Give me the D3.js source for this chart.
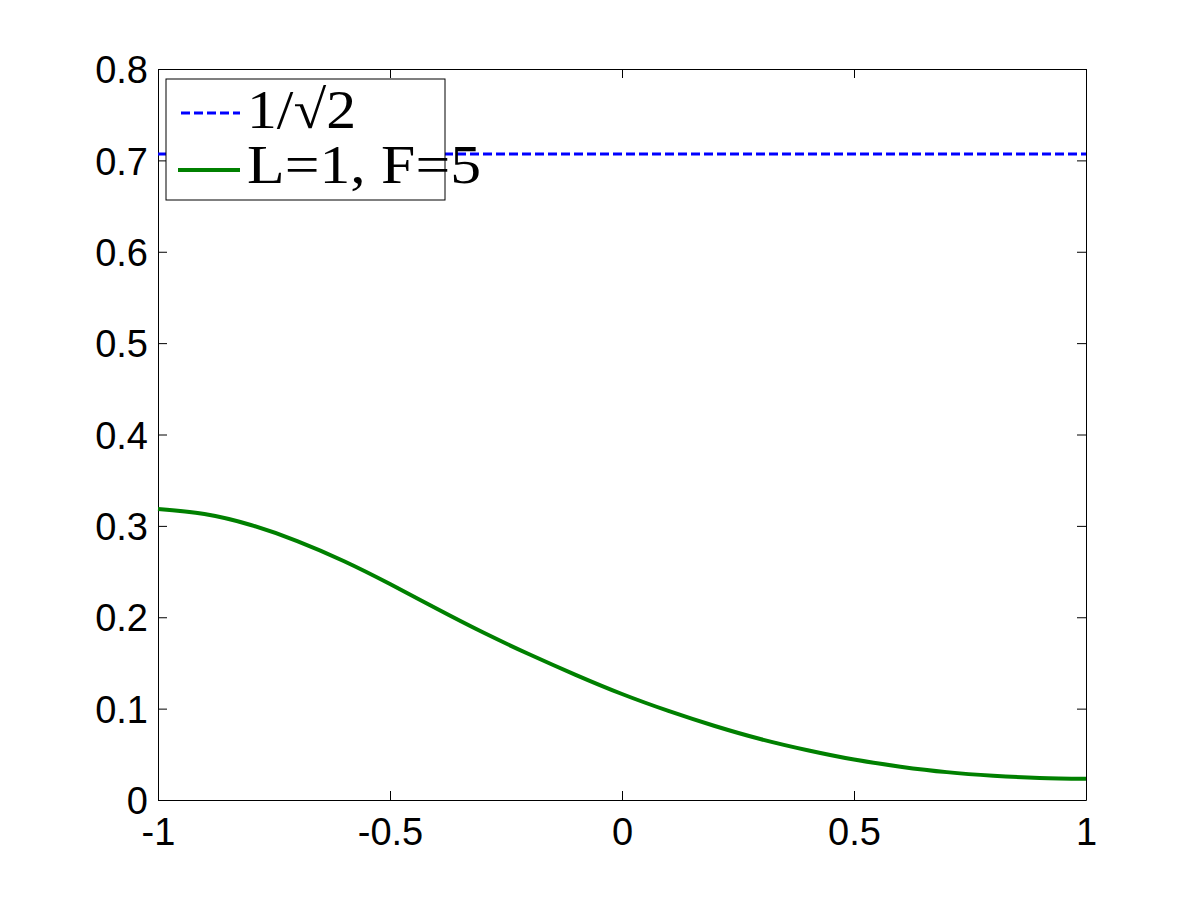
<!DOCTYPE html>
<html>
<head>
<meta charset="utf-8">
<script src="https://cdn.jsdelivr.net/npm/d3@7"></script>
<style>
  body { margin: 0; background: #fff; }
  svg { display: block; }
</style>
</head>
<body>
<svg id="chart"></svg>
<script>
// values
let xValues = [-1.0, -0.9, -0.8, -0.7, -0.6, -0.5, -0.4, -0.3, -0.2, -0.1, 0.0,
               0.1, 0.2, 0.3, 0.4, 0.5, 0.6, 0.7, 0.8, 0.9, 1.0];
let yValues = [0.3185, 0.3130, 0.3010, 0.2834, 0.2616, 0.2364, 0.2095, 0.1835, 0.1595, 0.1370, 0.1160,
               0.0975, 0.0810, 0.0665, 0.0545, 0.0443, 0.0365, 0.0305, 0.0266, 0.0242, 0.0232];
let refValue = 0.7071;

let xTicks = [-1, -0.5, 0, 0.5, 1];
let yTicks = [0, 0.1, 0.2, 0.3, 0.4, 0.5, 0.6, 0.7, 0.8];
let legendLabels = ["1/\u221A2", "L=1, F=5"];

const width = 1200, height = 900;
const margin = {top: 69, right: 114, bottom: 100, left: 158};
const INNER_WIDTH = width - margin.left - margin.right;
const INNER_HEIGHT = height - margin.top - margin.bottom;

let svg = d3.select("#chart")
    .attr("width", width)
    .attr("height", height);

let g = svg.append("g")
    .attr("transform", `translate(${margin.left},${margin.top})`);

let x = d3.scaleLinear().domain([-1, 1]).range([0, INNER_WIDTH]);
let y = d3.scaleLinear().domain([0, 0.8]).range([INNER_HEIGHT, 0]);

// axes, MATLAB style: inward ticks on all sides
let x_axis = g.append("g")
    .attr("transform", `translate(0,${INNER_HEIGHT})`)
    .call(d3.axisBottom(x).tickValues(xTicks).tickSizeInner(-9).tickSizeOuter(0).tickPadding(18)
        .tickFormat(d => String(d)));
let y_axis = g.append("g")
    .call(d3.axisLeft(y).tickValues(yTicks).tickSizeInner(-9).tickSizeOuter(0).tickPadding(10)
        .tickFormat(d => String(d)));
let top_axis = g.append("g")
    .call(d3.axisTop(x).tickValues(xTicks).tickSizeInner(-9).tickSizeOuter(0).tickFormat(""));
let right_axis = g.append("g")
    .attr("transform", `translate(${INNER_WIDTH},0)`)
    .call(d3.axisRight(y).tickValues(yTicks).tickSizeInner(-9).tickSizeOuter(0).tickFormat(""));

[x_axis, y_axis, top_axis, right_axis].forEach(a => {
    a.select(".domain").style("stroke", "#000").style("stroke-width", 1);
    a.selectAll("line").style("stroke", "#000").style("stroke-width", 1);
    a.selectAll("text")
        .style("font-family", "'Liberation Sans', Arial, sans-serif")
        .style("font-size", "38px")
        .style("fill", "#000");
});
x_axis.selectAll("text").attr("dy", "0.71em");
y_axis.selectAll("text").attr("dy", "0.36em");

// reference line
g.append("line")
    .attr("x1", x(-1)).attr("x2", x(1))
    .attr("y1", y(refValue)).attr("y2", y(refValue))
    .style("stroke", "#0000ff")
    .style("stroke-width", 3)
    .style("stroke-dasharray", "9,4");

// curve
let line = d3.line()
    .x((d, i) => x(xValues[i]))
    .y(d => y(d))
    .curve(d3.curveNatural);

g.append("path")
    .datum(yValues)
    .attr("d", line)
    .style("fill", "none")
    .style("stroke", "#008000")
    .style("stroke-width", 4);

// legend
let legend = svg.append("g").attr("transform", "translate(166,79)");
legend.append("rect")
    .attr("width", 279).attr("height", 121)
    .style("fill", "#fff")
    .style("stroke", "#000")
    .style("stroke-width", 1);

legend.append("line")
    .attr("x1", 15).attr("x2", 74).attr("y1", 34).attr("y2", 34)
    .style("stroke", "#0000ff").style("stroke-width", 3).style("stroke-dasharray", "9,4");
legend.append("line")
    .attr("x1", 12).attr("x2", 74).attr("y1", 91).attr("y2", 91)
    .style("stroke", "#008000").style("stroke-width", 4);

legend.append("text")
    .attr("x", 81).attr("y", 49)
    .attr("textLength", 109).attr("lengthAdjust", "spacingAndGlyphs")
    .style("font-family", "'Liberation Serif', 'DejaVu Serif', serif")
    .style("font-size", "54px")
    .text(legendLabels[0]);
legend.append("text")
    .attr("x", 81).attr("y", 104)
    .attr("textLength", 234).attr("lengthAdjust", "spacingAndGlyphs")
    .style("font-family", "'Liberation Serif', 'DejaVu Serif', serif")
    .style("font-size", "54px")
    .text(legendLabels[1]);
</script>
</body>
</html>
